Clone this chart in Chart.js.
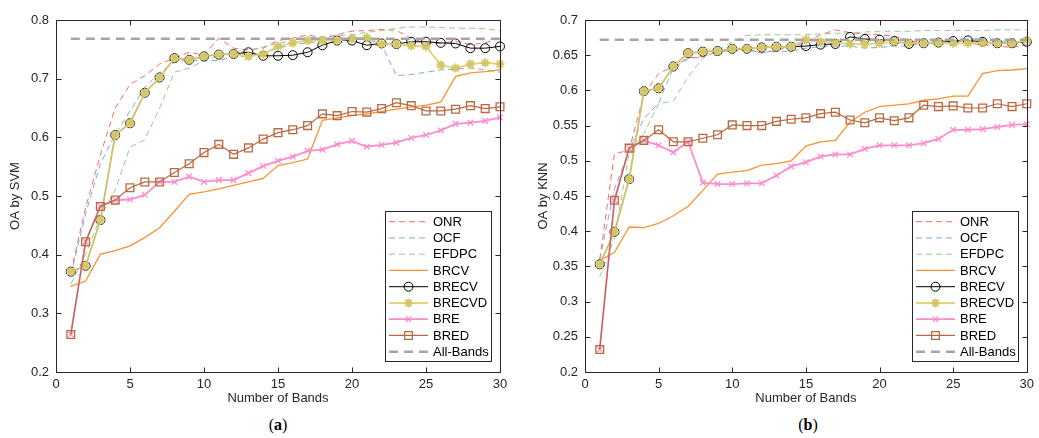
<!DOCTYPE html>
<html>
<head>
<meta charset="utf-8">
<script src="https://cdn.jsdelivr.net/npm/chart.js@4.4.1/dist/chart.umd.min.js"></script>
<style>
  body { margin: 0; width: 1039px; height: 438px; background: #fff; position: relative; overflow: hidden; }
  canvas { position: absolute; top: 0; }
  .cap { position: absolute; top: 416px; font: 16px "Liberation Serif", serif; color: #000; transform: translateX(-50%); }
</style>
</head>
<body>
<canvas id="svm" width="520" height="410" style="left:0"></canvas>
<canvas id="knn" width="519" height="410" style="left:520px"></canvas>
<div class="cap" style="left:278px">(<b>a</b>)</div>
<div class="cap" style="left:808px">(<b>b</b>)</div>
<script>
// Number of selected bands on the x axis
const bands = [1, 2, 3, 4, 5, 6, 7, 8, 9, 10, 11, 12, 13, 14, 15, 16, 17, 18, 19, 20, 21, 22, 23, 24, 25, 26, 27, 28, 29, 30];
const seriesNames = ['ONR', 'OCF', 'EFDPC', 'BRCV', 'BRECV', 'BRECVD', 'BRE', 'BRED', 'All-Bands'];

// Overall accuracy with the SVM classifier
const svmONR    = [0.370, 0.480, 0.570, 0.650, 0.690, 0.705, 0.725, 0.735, 0.745, 0.740, 0.769, 0.752, 0.749, 0.752, 0.765, 0.769, 0.775, 0.769, 0.775, 0.781, 0.782, 0.784, 0.782, 0.769, 0.760, 0.760, 0.764, 0.758, 0.761, 0.769];
const svmOCF    = [0.365, 0.470, 0.555, 0.605, 0.645, 0.685, 0.710, 0.728, 0.732, 0.730, 0.731, 0.737, 0.738, 0.744, 0.752, 0.758, 0.761, 0.764, 0.765, 0.768, 0.767, 0.758, 0.705, 0.707, 0.711, 0.715, 0.716, 0.718, 0.715, 0.711];
const svmEFDPC  = [0.350, 0.400, 0.465, 0.510, 0.583, 0.596, 0.650, 0.711, 0.718, 0.731, 0.739, 0.744, 0.748, 0.754, 0.760, 0.765, 0.769, 0.772, 0.773, 0.775, 0.779, 0.782, 0.786, 0.788, 0.788, 0.787, 0.786, 0.786, 0.785, 0.782];
const svmBRCV   = [0.346, 0.355, 0.401, 0.407, 0.415, 0.429, 0.446, 0.474, 0.503, 0.507, 0.512, 0.518, 0.524, 0.530, 0.552, 0.557, 0.563, 0.629, 0.633, 0.637, 0.640, 0.644, 0.648, 0.652, 0.655, 0.660, 0.704, 0.710, 0.712, 0.715];
const svmBRECV  = [0.371, 0.381, 0.459, 0.604, 0.624, 0.676, 0.702, 0.735, 0.732, 0.738, 0.741, 0.742, 0.745, 0.739, 0.739, 0.740, 0.745, 0.757, 0.765, 0.765, 0.757, 0.760, 0.759, 0.763, 0.763, 0.761, 0.760, 0.752, 0.752, 0.755];
const svmBRECVD = [0.371, 0.381, 0.459, 0.604, 0.624, 0.676, 0.702, 0.735, 0.732, 0.738, 0.741, 0.742, 0.738, 0.742, 0.755, 0.761, 0.765, 0.765, 0.765, 0.768, 0.770, 0.759, 0.759, 0.756, 0.755, 0.723, 0.718, 0.725, 0.727, 0.725];
const svmBRE    = [0.264, 0.422, 0.483, 0.493, 0.494, 0.502, 0.524, 0.524, 0.533, 0.524, 0.527, 0.527, 0.539, 0.551, 0.560, 0.567, 0.577, 0.579, 0.588, 0.594, 0.584, 0.587, 0.591, 0.599, 0.604, 0.612, 0.623, 0.625, 0.628, 0.634];
const svmBRED   = [0.264, 0.422, 0.482, 0.493, 0.514, 0.524, 0.524, 0.540, 0.555, 0.574, 0.588, 0.571, 0.582, 0.597, 0.608, 0.613, 0.620, 0.640, 0.637, 0.644, 0.643, 0.649, 0.659, 0.654, 0.645, 0.645, 0.648, 0.654, 0.649, 0.652];
const svmAllBands = 0.768;

// Overall accuracy with the KNN classifier
const knnONR    = [0.360, 0.510, 0.515, 0.595, 0.624, 0.634, 0.646, 0.648, 0.655, 0.658, 0.659, 0.653, 0.657, 0.662, 0.668, 0.679, 0.686, 0.682, 0.680, 0.679, 0.677, 0.671, 0.667, 0.667, 0.668, 0.667, 0.665, 0.663, 0.661, 0.665];
const knnOCF    = [0.360, 0.460, 0.515, 0.560, 0.582, 0.632, 0.645, 0.648, 0.655, 0.656, 0.657, 0.654, 0.655, 0.656, 0.660, 0.662, 0.663, 0.663, 0.660, 0.661, 0.663, 0.663, 0.667, 0.670, 0.671, 0.673, 0.673, 0.669, 0.669, 0.671];
const knnEFDPC  = [0.335, 0.390, 0.511, 0.539, 0.581, 0.585, 0.619, 0.646, 0.657, 0.669, 0.678, 0.679, 0.679, 0.679, 0.679, 0.680, 0.681, 0.682, 0.683, 0.684, 0.684, 0.684, 0.685, 0.685, 0.685, 0.685, 0.685, 0.686, 0.686, 0.686];
const knnBRCV   = [0.358, 0.370, 0.406, 0.405, 0.411, 0.422, 0.435, 0.458, 0.481, 0.484, 0.486, 0.494, 0.496, 0.500, 0.521, 0.527, 0.529, 0.555, 0.569, 0.577, 0.579, 0.581, 0.586, 0.588, 0.592, 0.592, 0.624, 0.628, 0.629, 0.631];
const knnBRECV  = [0.353, 0.399, 0.474, 0.599, 0.603, 0.634, 0.653, 0.655, 0.656, 0.659, 0.659, 0.661, 0.662, 0.662, 0.663, 0.665, 0.666, 0.676, 0.673, 0.672, 0.670, 0.666, 0.667, 0.668, 0.670, 0.671, 0.669, 0.667, 0.667, 0.669];
const knnBRECVD = [0.353, 0.399, 0.474, 0.599, 0.603, 0.634, 0.653, 0.655, 0.656, 0.659, 0.659, 0.661, 0.662, 0.662, 0.672, 0.669, 0.668, 0.666, 0.666, 0.667, 0.669, 0.667, 0.667, 0.668, 0.667, 0.667, 0.668, 0.667, 0.667, 0.671];
const knnBRE    = [0.232, 0.444, 0.518, 0.529, 0.522, 0.512, 0.527, 0.469, 0.467, 0.467, 0.468, 0.468, 0.479, 0.492, 0.498, 0.506, 0.509, 0.509, 0.517, 0.522, 0.522, 0.522, 0.525, 0.531, 0.544, 0.544, 0.545, 0.548, 0.551, 0.552];
const knnBRED   = [0.232, 0.444, 0.518, 0.529, 0.544, 0.527, 0.527, 0.532, 0.537, 0.551, 0.550, 0.550, 0.556, 0.559, 0.561, 0.567, 0.569, 0.558, 0.554, 0.561, 0.557, 0.561, 0.579, 0.577, 0.578, 0.575, 0.575, 0.581, 0.577, 0.581];
const knnAllBands = 0.672;

const axisColor = '#262626';
const fontFamily = '"Liberation Sans", Arial, sans-serif';

// line / marker look for each method, same order as seriesNames
const styles = [
  { color: 'rgb(255,105,105)', width: 1, dash: [6, 4] },
  { color: 'rgb(125,170,220)', width: 1, dash: [6, 4] },
  { color: 'rgb(145,205,140)', width: 1, dash: [6, 4] },
  { color: 'rgb(255,145,50)', width: 1.3 },
  { color: '#000', width: 1, point: 'circle', radius: 4.5, pointWidth: 1, fill: 'rgba(0,0,0,0)' },
  { color: 'rgba(222,208,120,0.9)', width: 2, point: 'star', radius: 4.5, pointWidth: 2, pointColor: 'rgb(214,198,100)', fill: 'rgb(214,198,100)' },
  { color: 'rgb(255,140,205)', width: 1.8, point: 'crossRot', radius: 4, pointWidth: 1.3 },
  { color: 'rgb(185,105,65)', width: 1.2, point: 'rect', radius: 5.5, pointWidth: 1.3, fill: 'rgba(0,0,0,0)' },
  { color: 'rgb(165,165,165)', width: 2.6, dash: [9, 6] }
];

function buildDatasets(valueLists, allBands) {
  const lists = valueLists.map(vals => bands.map((b, i) => ({ x: b, y: vals[i] })));
  lists.push([{ x: bands[0], y: allBands }, { x: bands[bands.length - 1], y: allBands }]);
  return lists.map((data, i) => {
    const s = styles[i];
    return {
      label: seriesNames[i],
      data: data,
      borderColor: s.color,
      borderWidth: s.width,
      borderDash: s.dash || [],
      pointStyle: s.point || 'circle',
      pointRadius: s.point ? s.radius : 0,
      pointBorderWidth: s.pointWidth || 1,
      pointBorderColor: s.pointColor || s.color,
      pointBackgroundColor: s.fill || s.color,
      tension: 0,
      fill: false,
      clip: false,
      // later methods are painted over earlier ones
      order: seriesNames.length - i
    };
  });
}

// closed box with inward tick marks on all four sides
const axesBox = {
  id: 'axesBox',
  afterDraw(chart) {
    const ctx = chart.ctx, a = chart.chartArea;
    const xs = chart.scales.x, ys = chart.scales.y;
    const len = 5;
    ctx.save();
    ctx.strokeStyle = axisColor;
    ctx.lineWidth = 1;
    ctx.setLineDash([]);
    const L = Math.round(a.left) + 0.5, R = Math.round(a.right) + 0.5;
    const T = Math.round(a.top) + 0.5, B = Math.round(a.bottom) + 0.5;
    ctx.beginPath();
    ctx.rect(L, T, R - L, B - T);
    xs.ticks.forEach(t => {
      const px = Math.round(xs.getPixelForValue(t.value)) + 0.5;
      ctx.moveTo(px, B); ctx.lineTo(px, B - len);
      ctx.moveTo(px, T); ctx.lineTo(px, T + len);
    });
    ys.ticks.forEach(t => {
      const py = Math.round(ys.getPixelForValue(t.value)) + 0.5;
      ctx.moveTo(L, py); ctx.lineTo(L + len, py);
      ctx.moveTo(R, py); ctx.lineTo(R - len, py);
    });
    ctx.stroke();
    ctx.restore();
  }
};

// legend box in the lower right corner of the plot area
const insideLegend = {
  id: 'insideLegend',
  afterDraw(chart) {
    const ctx = chart.ctx, a = chart.chartArea;
    const w = 106, h = 150;
    const x0 = Math.round(a.right - 9 - w), y0 = Math.round(a.bottom - 11 - h);
    ctx.save();
    ctx.fillStyle = '#fff';
    ctx.fillRect(x0, y0, w, h);
    ctx.strokeStyle = axisColor;
    ctx.lineWidth = 1;
    ctx.strokeRect(x0 + 0.5, y0 + 0.5, w, h);
    chart.data.datasets.forEach((ds, i) => {
      const y = y0 + 10.7 + i * 16.25;
      ctx.strokeStyle = ds.borderColor;
      ctx.lineWidth = ds.borderWidth;
      ctx.setLineDash(ds.borderDash);
      ctx.beginPath();
      ctx.moveTo(x0 + 4, y);
      ctx.lineTo(x0 + 43, y);
      ctx.stroke();
      ctx.setLineDash([]);
      if (ds.pointRadius > 0) {
        ctx.strokeStyle = ds.pointBorderColor;
        ctx.fillStyle = ds.pointBackgroundColor;
        ctx.lineWidth = ds.pointBorderWidth;
        Chart.helpers.drawPoint(ctx, {
          pointStyle: ds.pointStyle,
          radius: ds.pointRadius,
          rotation: 0,
          borderWidth: ds.pointBorderWidth
        }, x0 + 23.5, y);
      }
      ctx.fillStyle = '#000';
      ctx.font = '13px ' + fontFamily;
      ctx.textBaseline = 'middle';
      ctx.textAlign = 'left';
      ctx.fillText(ds.label, x0 + 48, y + 0.5);
    });
    ctx.restore();
  }
};

function makeChart(canvasId, valueLists, allBands, yTitle, yMax, yStep, yAxisWidth, titlePad, rightPad) {
  return new Chart(document.getElementById(canvasId), {
    type: 'line',
    data: { datasets: buildDatasets(valueLists, allBands) },
    options: {
      responsive: false,
      animation: false,
      devicePixelRatio: 1,
      layout: { padding: { left: 0, top: 20, right: rightPad, bottom: 0 } },
      plugins: { legend: { display: false }, tooltip: { enabled: false } },
      scales: {
        x: {
          type: 'linear',
          min: 0,
          max: 30,
          grid: { display: false, drawTicks: false },
          border: { display: false },
          ticks: { stepSize: 5, padding: 5, color: axisColor, font: { family: fontFamily, size: 13 } },
          title: { display: true, text: 'Number of Bands', color: axisColor, padding: { top: 0, bottom: 4 }, font: { family: fontFamily, size: 13 } },
          afterFit: scale => { scale.height = 38; }
        },
        y: {
          min: 0.2,
          max: yMax,
          grid: { display: false, drawTicks: false },
          border: { display: false },
          ticks: {
            stepSize: yStep,
            padding: 7,
            color: axisColor,
            font: { family: fontFamily, size: 13 },
            callback: v => String(+v.toFixed(2))
          },
          title: { display: true, text: yTitle, color: axisColor, padding: { top: titlePad, bottom: 0 }, font: { family: fontFamily, size: 13 } },
          afterFit: scale => { scale.width = yAxisWidth; }
        }
      }
    },
    plugins: [axesBox, insideLegend]
  });
}

makeChart('svm',
  [svmONR, svmOCF, svmEFDPC, svmBRCV, svmBRECV, svmBRECVD, svmBRE, svmBRED],
  svmAllBands, 'OA by SVM', 0.8, 0.1, 56, 8, 20);

makeChart('knn',
  [knnONR, knnOCF, knnEFDPC, knnBRCV, knnBRECV, knnBRECVD, knnBRE, knnBRED],
  knnAllBands, 'OA by KNN', 0.7, 0.05, 65, 16, 7);
</script>
</body>
</html>
